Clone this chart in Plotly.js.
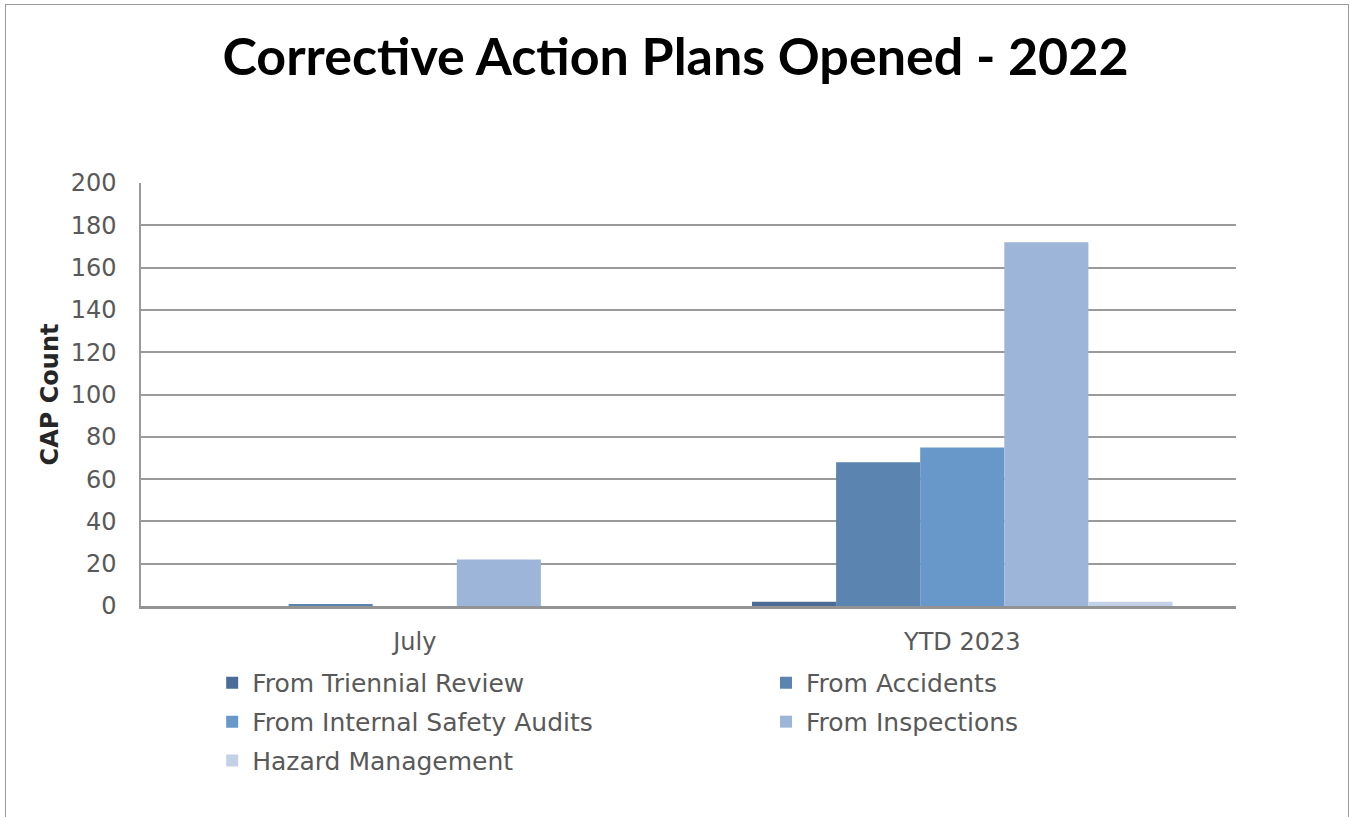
<!DOCTYPE html>
<html>
<head>
<meta charset="utf-8">
<script src="https://cdn.plot.ly/plotly-3.0.1.min.js"></script>
<style>
html,body{margin:0;padding:0;background:#fff;}
#frame{position:absolute;left:5px;top:4px;width:1344px;height:820px;border:1.5px solid #9a9a9a;box-sizing:border-box;}
#chart{position:absolute;left:0;top:0;width:1351px;height:817px;}
</style>
</head>
<body>
<div id="frame"></div>
<div id="chart"></div>
<script>
var categories = ["July", "YTD 2023"];
var seriesNames = ["From Triennial Review", "From Accidents", "From Internal Safety Audits", "From Inspections", "Hazard Management"];
var triennialReview = [0, 2];
var accidents = [1, 68];
var internalSafetyAudits = [0, 75];
var inspections = [22, 172];
var hazardManagement = [0, 2];
var yTickValues = [0, 20, 40, 60, 80, 100, 120, 140, 160, 180, 200];

var colors = ["#4a6c96", "#5b84b1", "#6897c9", "#9db5d8", "#c2d1e8"];
var values = [triennialReview, accidents, internalSafetyAudits, inspections, hazardManagement];
var legendIds = ["legend", "legend2", "legend3", "legend4", "legend5"];
// legend grid: two columns, three rows
var legendCols = [0.065, 0.5708, 0.065, 0.5708, 0.065];
var legendRows = [-0.182, -0.182, -0.274, -0.274, -0.366];

var traces = seriesNames.map(function (name, i) {
  return {
    type: "bar",
    name: name,
    x: categories,
    y: values[i],
    marker: {color: colors[i], line: {width: 0}},
    legend: legendIds[i],
    hoverinfo: "x+y+name"
  };
});

var legendFont = {family: "DejaVu Sans", size: 25, color: "#595959"};
function mkLegend(x, y) {
  return {
    orientation: "h",
    x: x, xanchor: "left",
    y: y, yanchor: "middle",
    font: legendFont,
    bgcolor: "rgba(0,0,0,0)"
  };
}

var tickFont = {family: "DejaVu Sans", size: 24, color: "#595959"};

var layout = {
  width: 1351, height: 817,
  paper_bgcolor: "rgba(0,0,0,0)",
  plot_bgcolor: "rgba(0,0,0,0)",
  margin: {l: 141, r: 115, t: 183, b: 211, pad: 0},
  title: {
    text: "Corrective Action Plans Opened - 2022",
    font: {family: "Lato", size: 52, color: "#000", weight: 700},
    x: 0.5, xref: "container", xanchor: "center",
    y: 0.93, yref: "container", yanchor: "middle"
  },
  barmode: "group",
  bargap: 0.232,
  bargroupgap: 0,
  xaxis: {
    type: "category",
    showgrid: false,
    showline: true, linecolor: "#939393", linewidth: 2.5,
    ticks: "",
    tickfont: tickFont,
    ticklabelstandoff: 12
  },
  yaxis: {
    range: [0, 200],
    tickvals: yTickValues,
    showgrid: true, gridcolor: "#9a9a9a", gridwidth: 1.5,
    showline: true, linecolor: "#9a9a9a", linewidth: 1.5,
    zeroline: false,
    ticks: "",
    tickfont: tickFont,
    ticklabelstandoff: 18,
    title: {text: "CAP Count", font: {family: "DejaVu Sans", size: 24, color: "#262626", weight: 700}, standoff: 5}
  },
  showlegend: true
};
legendIds.forEach(function (id, i) {
  layout[id] = mkLegend(legendCols[i], legendRows[i]);
});

Plotly.newPlot("chart", traces, layout, {displayModeBar: false, responsive: false});
</script>
</body>
</html>
